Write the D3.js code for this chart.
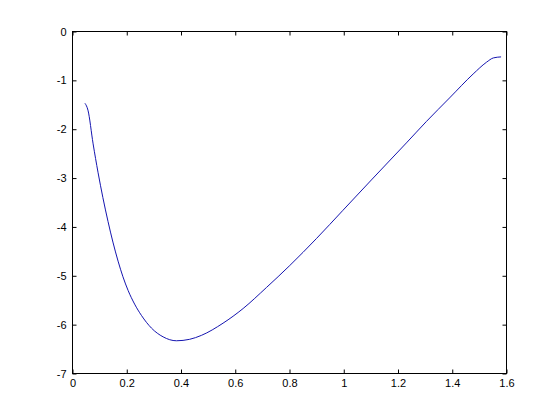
<html>
  <head>
    <meta charset="utf-8">
    <script src="https://d3js.org/d3.v7.min.js"></script>
    <style>
      body { margin: 0; background: #fff; }
      text { font-family: "Liberation Sans", Arial, sans-serif; font-size: 11px; fill: #000; }
    </style>
  </head>
  <body>
    <script type="text/javascript">
      // values
      var xs = [0.046, 0.057, 0.076, 0.094, 0.112, 0.131, 0.149, 0.168, 0.186, 0.205, 0.229,
                0.254, 0.291, 0.334, 0.383, 0.432, 0.475, 0.555, 0.629, 0.715, 0.801, 0.899,
                0.997, 1.105, 1.231, 1.305, 1.390, 1.477, 1.526, 1.552, 1.580];
      var ys = [-1.47, -1.61, -2.30, -2.88, -3.40, -3.89, -4.31, -4.70, -5.02, -5.30, -5.58,
                -5.81, -6.07, -6.25, -6.33, -6.30, -6.22, -5.97, -5.67, -5.24, -4.79, -4.24,
                -3.66, -3.02, -2.28, -1.84, -1.36, -0.87, -0.63, -0.54, -0.52];
      var xTicks = [0, 0.2, 0.4, 0.6, 0.8, 1, 1.2, 1.4, 1.6];
      var yTicks = [-7, -6, -5, -4, -3, -2, -1, 0];

      var w = 560;
      var h = 420;
      var pl = 72.5, pr = 506.5, pt = 31.5, pb = 373.5;
      var tick = 4;

      var x = d3.scaleLinear().domain([0, 1.6]).range([pl, pr]);
      var y = d3.scaleLinear().domain([-7, 0]).range([pb, pt]);

      var svg = d3.select("body").append("svg")
        .attr("width", w)
        .attr("height", h);

      svg.append("rect").attr("width", w).attr("height", h).attr("fill", "#fff");

      var line = d3.line()
        .x(d => x(d[0]))
        .y(d => y(d[1]))
        .curve(d3.curveMonotoneX);

      svg.append("path").datum(xs.map((d, i) => [d, ys[i]]))
        .attr("fill", "none")
        .attr("stroke", "#1515b0")
        .attr("stroke-width", 1)
        .attr("d", line);

      var fmt = d => String(d);
      var xAxis = d3.axisBottom(x).tickValues(xTicks).tickFormat(fmt).tickSizeInner(-tick).tickSizeOuter(0).tickPadding(6);
      var yAxis = d3.axisLeft(y).tickValues(yTicks).tickFormat(fmt).tickSizeInner(-tick).tickSizeOuter(0).tickPadding(6);
      var xTop = d3.axisTop(x).tickValues(xTicks).tickFormat("").tickSizeInner(-tick).tickSizeOuter(0);
      var yRight = d3.axisRight(y).tickValues(yTicks).tickFormat("").tickSizeInner(-tick).tickSizeOuter(0);

      [
        [xAxis, "translate(0," + pb + ")"],
        [yAxis, "translate(" + pl + ",0)"],
        [xTop, "translate(0," + pt + ")"],
        [yRight, "translate(" + pr + ",0)"]
      ].forEach(function(a) {
        var g = svg.append("g").attr("transform", a[1]).call(a[0]);
        g.select(".domain").remove();
        g.selectAll("line").attr("stroke", "#000");
        g.selectAll("text").attr("fill", "#000")
          .style("font-family", "'Liberation Sans', Arial, sans-serif").style("font-size", "11px");
      });

      svg.append("rect")
        .attr("x", pl).attr("y", pt)
        .attr("width", pr - pl).attr("height", pb - pt)
        .attr("fill", "none")
        .attr("stroke", "#000");
    </script>
  </body>
</html>
